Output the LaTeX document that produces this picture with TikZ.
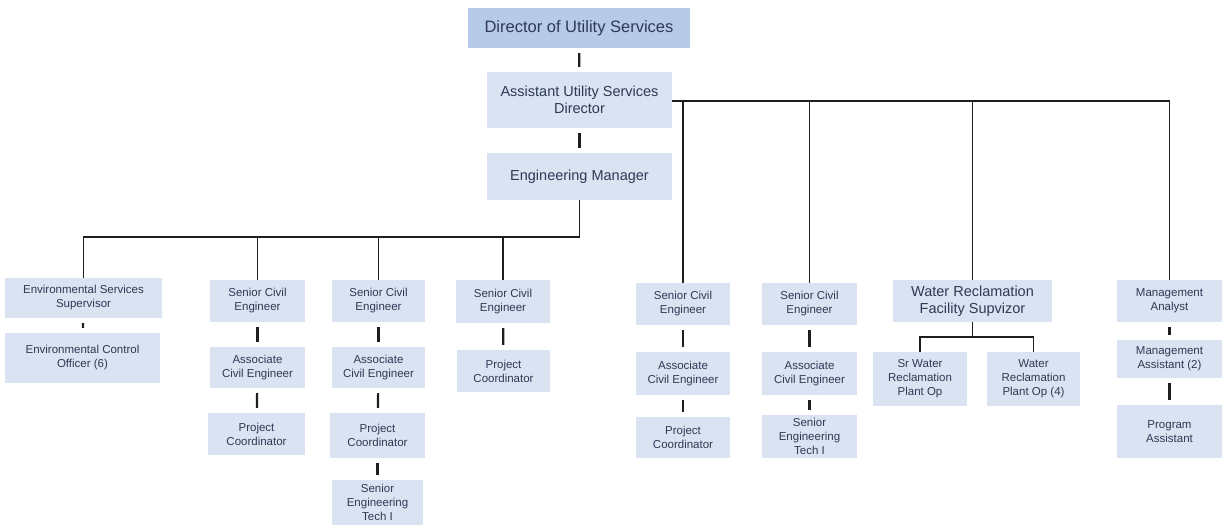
\documentclass[tikz,border=0pt]{standalone}
\usepackage{fontspec}
\setmainfont{Liberation Sans}
\definecolor{boxfill}{HTML}{D9E3F2}
\definecolor{topfill}{HTML}{B7CAE8}
\definecolor{boxtext}{HTML}{2E3A55}
\definecolor{linecol}{HTML}{1E1E1E}
\tikzset{
  org/.style={draw=none, fill=boxfill, text=boxtext, align=center, inner sep=0pt,
    font=\fontsize{11.5}{14}\selectfont},
  orgmid/.style={org, font=\fontsize{14.5}{17}\selectfont},
  orgtop/.style={org, fill=topfill, font=\fontsize{16.5}{19}\selectfont},
  bus/.style={draw=linecol, line width=1.8pt},
  link/.style={draw=linecol, line width=2.2pt, shorten >=5pt, shorten <=5pt},
}
\newcommand{\orgbox}[6][org]{%
  \node[#1, minimum width=#4, minimum height=#5] (#2) at (#3) {#6};}
\begin{document}
\begin{tikzpicture}[x=1pt, y=-1pt]
\useasboundingbox (0,0) rectangle (1225,525);

% top of the chart
\orgbox[orgtop]{dir}{579,28}{222}{40}{Director of Utility Services}
\orgbox[orgmid]{asst}{579.5,100}{185}{56}{Assistant Utility Services\\Director}
\orgbox[orgmid]{eng}{579.5,176.5}{185}{47}{Engineering Manager}

% groups under the engineering manager
\orgbox{ess}{83.5,298}{157}{40}{Environmental Services\\Supervisor}
\orgbox{eco}{82.5,358}{155}{50}{Environmental Control\\Officer (6)}

\orgbox{sceA}{257.5,301}{95}{42}{Senior Civil\\Engineer}
\orgbox{aceA}{257.5,367.5}{95}{41}{Associate\\Civil Engineer}
\orgbox{pcA}{256.5,434}{97}{42}{Project\\Coordinator}

\orgbox{sceB}{378.5,301}{93}{42}{Senior Civil\\Engineer}
\orgbox{aceB}{378.5,367.5}{93}{41}{Associate\\Civil Engineer}
\orgbox{pcB}{377.5,435.5}{95}{45}{Project\\Coordinator}
\orgbox{setB}{377.5,502.5}{91}{45}{Senior\\Engineering\\Tech I}

\orgbox{sceC}{503,301.5}{94}{43}{Senior Civil\\Engineer}
\orgbox{pcC}{503.5,371}{93}{42}{Project\\Coordinator}

% groups under the assistant director
\orgbox{sceD}{683,304}{94}{42}{Senior Civil\\Engineer}
\orgbox{aceD}{683,373.5}{94}{43}{Associate\\Civil Engineer}
\orgbox{pcD}{683,437.5}{94}{41}{Project\\Coordinator}

\orgbox{sceE}{809.5,304}{95}{42}{Senior Civil\\Engineer}
\orgbox{aceE}{809.5,373.5}{95}{43}{Associate\\Civil Engineer}
\orgbox{setE}{809.5,436.5}{95}{43}{Senior\\Engineering\\Tech I}

\orgbox[orgmid]{wrf}{972.5,301}{159}{42}{Water Reclamation\\Facility Supvizor}
\orgbox{srw}{920,379}{94}{54}{Sr Water\\Reclamation\\Plant Op}
\orgbox{wrp}{1033.5,379}{93}{54}{Water\\Reclamation\\Plant Op (4)}

\orgbox{ma}{1169.5,301}{105}{42}{Management\\Analyst}
\orgbox{mas}{1169.5,359}{105}{38}{Management\\Assistant (2)}
\orgbox{pa}{1169.5,431.5}{105}{53}{Program\\Assistant}

% short links between stacked boxes
\draw[link] (dir) -- (asst);
\draw[link] (asst) -- (eng);
\draw[link] (ess) -- (eco);
\draw[link] (sceA) -- (aceA);
\draw[link] (aceA) -- (pcA);
\draw[link] (sceB) -- (aceB);
\draw[link] (aceB) -- (pcB);
\draw[link] (pcB) -- (setB);
\draw[link] (sceC) -- (pcC);
\draw[link] (sceD) -- (aceD);
\draw[link] (aceD) -- (pcD);
\draw[link] (sceE) -- (aceE);
\draw[link] (aceE) -- (setE);
\draw[link] (ma) -- (mas);
\draw[link] (mas) -- (pa);

% engineering manager bus
\coordinate (engbus) at (579.5,237);
\draw[bus] (eng.south) -- (engbus) -| (ess.north);
\draw[bus] (engbus) -| (sceA.north);
\draw[bus] (engbus) -| (sceB.north);
\draw[bus] (engbus) -| (sceC.north);

% assistant director bus
\coordinate (asstbus) at (672,101);
\draw[bus] (asstbus) -| (ma.north);
\draw[bus] (asstbus) -| (sceD.north);
\draw[bus] (asstbus) -| (sceE.north);
\draw[bus] (asstbus) -| (wrf.north);

% water reclamation branch
\coordinate (wrfbus) at (972.5,337);
\draw[bus] (wrf.south) -- (wrfbus);
\draw[bus] (wrfbus) -| (srw.north);
\draw[bus] (wrfbus) -| (wrp.north);
\end{tikzpicture}
\end{document}
